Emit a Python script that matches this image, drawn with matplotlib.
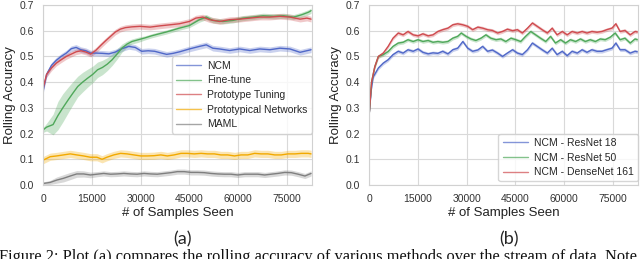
import numpy as np
import matplotlib
matplotlib.use("Agg")
import matplotlib.pyplot as plt
import seaborn as sns

# -----------------------------
# DATA
# -----------------------------
# panel (a)
ncm_x = [0, 1000, 2500, 4000, 5500, 7100, 8600, 10100, 11600, 13100, 14600, 16200, 18200,
         20200, 22200, 24200, 26300, 28300, 30300, 32300, 34300, 36400, 38000, 40000, 42000,
         45000, 48100, 50200, 52200, 54300, 57400, 60500, 63600, 66700, 69800, 72900, 76000,
         79100, 82500]
ncm_y = [0.37, 0.43, 0.465, 0.485, 0.50, 0.513, 0.53, 0.535, 0.526, 0.522, 0.513, 0.513, 0.512,
         0.51, 0.517, 0.53, 0.539, 0.535, 0.52, 0.522, 0.52, 0.513, 0.508, 0.512, 0.518,
         0.529, 0.539, 0.545, 0.532, 0.529, 0.523, 0.529, 0.523, 0.529, 0.526, 0.532, 0.529,
         0.516, 0.526]

ft_x = [0, 1000, 3000, 4500, 6000, 7600, 9100, 10600, 12100, 13600, 15200, 16700, 18200,
        19700, 21200, 22700, 24200, 25800, 27300, 29300, 31300, 33300, 35400, 37900, 41900,
        45000, 48100, 50200, 52200, 55300, 58400, 61500, 64600, 67700, 70900, 74000, 77100,
        79600, 81700, 82500]
ft_y = [0.215, 0.225, 0.235, 0.27, 0.30, 0.33, 0.357, 0.383, 0.40, 0.415, 0.43, 0.448, 0.457,
        0.47, 0.487, 0.509, 0.532, 0.548, 0.558, 0.565, 0.572, 0.58, 0.587, 0.595, 0.61,
        0.62, 0.643, 0.653, 0.64, 0.636, 0.64, 0.649, 0.653, 0.658, 0.656, 0.658, 0.653,
        0.662, 0.672, 0.678]
ft_sd = [0.01, 0.015, 0.04, 0.055, 0.055, 0.05, 0.045, 0.04, 0.038, 0.035, 0.032, 0.03, 0.028,
         0.025, 0.022, 0.02, 0.016, 0.012, 0.01, 0.01, 0.008, 0.008, 0.008, 0.008, 0.008,
         0.008, 0.01, 0.01, 0.01, 0.01, 0.01, 0.01, 0.01, 0.01, 0.01, 0.01, 0.01,
         0.01, 0.01, 0.01]

pt_x = [0, 1000, 2500, 4000, 5500, 7100, 8600, 10100, 11600, 13100, 14600, 16200, 17700,
        19200, 20700, 22200, 23700, 25300, 27300, 29800, 32900, 36000, 39000, 41900, 45000,
        47000, 49100, 51200, 54300, 57400, 60500, 63600, 66700, 69800, 72900, 76000, 79100,
        81200, 82500]
pt_y = [0.38, 0.43, 0.455, 0.474, 0.487, 0.50, 0.509, 0.518, 0.522, 0.517, 0.509, 0.524, 0.543,
        0.561, 0.578, 0.595, 0.606, 0.612, 0.615, 0.617, 0.614, 0.619, 0.623, 0.627, 0.636,
        0.649, 0.653, 0.643, 0.636, 0.643, 0.645, 0.649, 0.653, 0.653, 0.656, 0.653, 0.645,
        0.649, 0.645]

pn_x = [0, 2100, 4100, 6200, 8300, 10300, 12400, 14500, 16500, 18100, 19600, 21700, 23800,
        25800, 27900, 30000, 32000, 34100, 36200, 38200, 40300, 42400, 44400, 46500, 48600,
        50600, 52700, 54700, 56800, 58900, 60900, 63000, 65100, 67100, 69200, 71300, 73300,
        75400, 77500, 79500, 81600, 82500]
pn_y = [0.097, 0.11, 0.113, 0.117, 0.121, 0.117, 0.113, 0.108, 0.108, 0.10, 0.108, 0.117, 0.123,
        0.121, 0.117, 0.113, 0.113, 0.114, 0.117, 0.113, 0.117, 0.123, 0.123, 0.121, 0.123,
        0.121, 0.121, 0.117, 0.117, 0.113, 0.117, 0.117, 0.123, 0.121, 0.121, 0.117, 0.117,
        0.121, 0.121, 0.123, 0.123, 0.121]

maml_x = [0, 2100, 4100, 6200, 8300, 10300, 12400, 14500, 16500, 18600, 20700, 22700, 24800,
          26900, 28900, 31000, 33100, 35100, 37200, 39300, 41300, 43400, 45500, 47500, 49600,
          51600, 53700, 55800, 57800, 59900, 62000, 64000, 66100, 68200, 70200, 72300, 74400,
          76400, 78500, 80600, 82500]
maml_y = [0.006, 0.01, 0.019, 0.026, 0.035, 0.043, 0.043, 0.039, 0.042, 0.045, 0.042, 0.043, 0.045,
          0.043, 0.042, 0.045, 0.043, 0.042, 0.045, 0.048, 0.052, 0.052, 0.049, 0.049, 0.048,
          0.045, 0.043, 0.042, 0.042, 0.039, 0.042, 0.042, 0.042, 0.039, 0.042, 0.045, 0.049,
          0.048, 0.042, 0.035, 0.045]
maml_sd = [0.006, 0.008, 0.012, 0.014, 0.014, 0.013, 0.012, 0.011, 0.01, 0.01, 0.01, 0.01, 0.01,
           0.01, 0.01, 0.01, 0.01, 0.01, 0.01, 0.01, 0.01, 0.01, 0.01, 0.01, 0.01,
           0.01, 0.01, 0.01, 0.01, 0.01, 0.01, 0.01, 0.01, 0.01, 0.01, 0.01, 0.01,
           0.01, 0.01, 0.01, 0.01]

# panel (b)
r18_x = [0, 600, 1200, 2800, 4300, 5800, 7300, 8900, 10400, 11900, 13500, 15000, 16500, 18100,
         19600, 21100, 22600, 24200, 25700, 27200, 28800, 30300, 31800, 33400, 34900, 36400,
         37900, 39500, 41000, 42500, 44100, 45600, 47100, 48700, 50200, 51700, 53200, 54800,
         56300, 57800, 59400, 60900, 62400, 64000, 65500, 67000, 68500, 70100, 71600, 73100,
         74700, 75900, 77200, 78700, 80300, 81800, 82500]
r18_y = [0.28, 0.37, 0.42, 0.455, 0.474, 0.487, 0.507, 0.52, 0.513, 0.526, 0.52, 0.529, 0.516, 0.51,
         0.514, 0.512, 0.52, 0.51, 0.526, 0.532, 0.558, 0.532, 0.52, 0.525, 0.539, 0.52,
         0.525, 0.513, 0.50, 0.513, 0.526, 0.513, 0.507, 0.526, 0.552, 0.539, 0.526, 0.513,
         0.532, 0.507, 0.52, 0.503, 0.52, 0.513, 0.526, 0.516, 0.526, 0.52, 0.52, 0.526,
         0.532, 0.552, 0.526, 0.526, 0.513, 0.52, 0.518]

r50_x = [0, 700, 1700, 2800, 4300, 5800, 7300, 8900, 10400, 11900, 13500, 15000, 16500, 18100,
         19600, 21100, 22600, 24200, 25700, 27200, 28300, 29800, 31300, 32800, 34400, 35900,
         37400, 39000, 40500, 42000, 43600, 45100, 46600, 48100, 49700, 51200, 52700, 54300,
         55800, 57300, 58900, 60400, 61900, 63500, 65000, 66500, 68000, 69600, 71100, 72600,
         74200, 75700, 77200, 78700, 80300, 81800, 82500]
r50_y = [0.28, 0.40, 0.46, 0.50, 0.507, 0.519, 0.539, 0.552, 0.555, 0.565, 0.558, 0.565, 0.558, 0.562,
         0.555, 0.558, 0.555, 0.558, 0.571, 0.578, 0.591, 0.578, 0.568, 0.562, 0.571, 0.584,
         0.571, 0.565, 0.568, 0.558, 0.571, 0.565, 0.558, 0.578, 0.597, 0.584, 0.571, 0.558,
         0.578, 0.552, 0.565, 0.552, 0.565, 0.558, 0.568, 0.558, 0.565, 0.558, 0.568, 0.565,
         0.575, 0.591, 0.565, 0.571, 0.552, 0.568, 0.565]

d161_x = [0, 700, 1700, 2800, 4300, 5800, 7300, 8900, 10400, 11900, 13500, 15000, 16500, 18100,
          19600, 21100, 22600, 24200, 25700, 27200, 28800, 30300, 31800, 33400, 34900, 36400,
          37900, 39500, 41000, 42500, 44100, 45600, 47100, 48700, 50200, 51700, 53200, 54800,
          56300, 57800, 59400, 60900, 62400, 64000, 65500, 67000, 68500, 70100, 71600, 73100,
          74700, 75900, 77200, 78700, 80300, 81800, 82500]
d161_y = [0.28, 0.40, 0.46, 0.50, 0.513, 0.539, 0.571, 0.591, 0.584, 0.597, 0.584, 0.58, 0.588, 0.58,
          0.584, 0.597, 0.604, 0.61, 0.623, 0.627, 0.623, 0.617, 0.604, 0.614, 0.61, 0.604,
          0.601, 0.591, 0.597, 0.606, 0.6, 0.604, 0.591, 0.61, 0.63, 0.617, 0.604, 0.591,
          0.61, 0.584, 0.597, 0.584, 0.597, 0.591, 0.597, 0.591, 0.597, 0.594, 0.597, 0.604,
          0.61, 0.627, 0.597, 0.601, 0.584, 0.597, 0.595]

X_TICKS = [0, 15000, 30000, 45000, 60000, 75000]
Y_TICKS = [0.0, 0.1, 0.2, 0.3, 0.4, 0.5, 0.6, 0.7]
X_MAX = 82700

CAPTION = ("Figure 2: Plot (a) compares the rolling accuracy of various methods "
           "over the stream of data. Note")

# -----------------------------
# STYLE
# -----------------------------
sns.set_style("whitegrid", {"axes.edgecolor": ".82", "grid.color": ".85"})
plt.rcParams["font.family"] = ["Liberation Sans", "DejaVu Sans"]

BLUE = "#5068c8"
GREEN = "#4fa85a"
RED = "#cf4b4f"
ORANGE = "#f2a900"
GRAY = "#7f7f7f"

fig = plt.figure(figsize=(6.4, 2.59), dpi=100)
ax_a = fig.add_axes([0.0677, 0.2857, 0.4194, 0.695])
ax_b = fig.add_axes([0.5770, 0.2857, 0.4198, 0.695])


def band(ax, x, y, sd, color, label):
    x = np.asarray(x)
    y = np.asarray(y)
    sd = np.broadcast_to(np.asarray(sd, dtype=float), y.shape)
    ax.fill_between(x, y - sd, y + sd, color=color, alpha=0.3, lw=0)
    ax.plot(x, y, color=color, lw=1.0, label=label)


band(ax_a, ncm_x, ncm_y, 0.011, BLUE, "NCM")
band(ax_a, ft_x, ft_y, ft_sd, GREEN, "Fine-tune")
band(ax_a, pt_x, pt_y, 0.011, RED, "Prototype Tuning")
band(ax_a, pn_x, pn_y, 0.014, ORANGE, "Prototypical Networks")
band(ax_a, maml_x, maml_y, maml_sd, GRAY, "MAML")

band(ax_b, r18_x, r18_y, 0.007, BLUE, "NCM - ResNet 18")
band(ax_b, r50_x, r50_y, 0.007, GREEN, "NCM - ResNet 50")
band(ax_b, d161_x, d161_y, 0.007, RED, "NCM - DenseNet 161")

for ax in (ax_a, ax_b):
    ax.set_xlim(0, X_MAX)
    ax.set_ylim(0, 0.7)
    ax.set_xticks(X_TICKS)
    ax.set_yticks(Y_TICKS)
    ax.set_yticklabels([f"{v:.1f}" for v in Y_TICKS])
    ax.tick_params(labelsize=7.5, colors="#333333", pad=3)
    ax.set_xlabel("# of Samples Seen", fontsize=9.5, color="#222222", labelpad=2)
    ax.set_ylabel("Rolling Accuracy", fontsize=9.5, color="#222222", labelpad=3)

leg_a = ax_a.legend(loc="center right", bbox_to_anchor=(1.0, 0.5), borderaxespad=0,
                    fontsize=7.5, handlelength=2.4, handletextpad=0.6, labelspacing=0.45)
leg_b = ax_b.legend(loc="lower right", bbox_to_anchor=(1.0, 0.02), borderaxespad=0,
                    fontsize=7.5, handlelength=2.4, handletextpad=0.6, labelspacing=0.45)
for leg in (leg_a, leg_b):
    for line in leg.get_lines():
        line.set_alpha(0.7)

fig.text(183 / 640, 1 - 239 / 259, "(a)", ha="center", va="center", fontsize=13,
         family=["Lato", "DejaVu Sans"])
fig.text(509 / 640, 1 - 239 / 259, "(b)", ha="center", va="center", fontsize=13,
         family=["Lato", "DejaVu Sans"])
fig.text(-0.002, -0.006, CAPTION, ha="left", va="baseline", fontsize=11.8,
         family=["Liberation Serif", "DejaVu Serif"], color="#111111")

fig.savefig("out.png", dpi=100)
